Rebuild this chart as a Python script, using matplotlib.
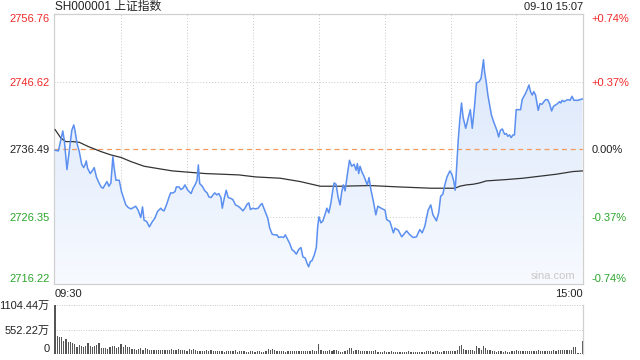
import matplotlib
matplotlib.use("Agg")
import numpy as np
from matplotlib import pyplot as plt
from matplotlib.colors import LinearSegmentedColormap

# =================================================
#  ========== CONFIG ==========
# =================================================
plt.rcParams["font.family"] = ["Liberation Sans", "Noto Sans CJK SC", "DejaVu Sans"]
plt.rcParams["font.size"] = 8

RED = "#f02a2a"
GREEN = "#2ca62c"
GRID = "#c8c8c8"
LINE = "#5b8ff0"

title = "SH000001 上证指数"
stamp = "09-10 15:07"
prev_close = 2736.49

price_ticks = [2716.22, 2726.35, 2736.49, 2746.62, 2756.76]
price_labels = ["2716.22", "2726.35", "2736.49", "2746.62", "2756.76"]
pct_labels = ["-0.74%", "-0.37%", "0.00%", "+0.37%", "+0.74%"]
tick_colors = [GREEN, GREEN, "#222222", RED, RED]

vol_ticks = [0, 552.22, 1104.44]
vol_labels = ["0", "552.22万", "1104.44万"]

# minute index (0 = 09:30, 240 = 15:00) and index level
minutes = [0, 1.5, 3.5, 4.2, 5.4, 6.5, 7.6, 8.5, 9.1, 10, 11, 12.1, 13, 13.6, 14.2, 14.8, 16, 17.1, 17.8, 18.8,
           19.7, 20.9, 21.8, 22.7, 23.6, 24.5, 25.4, 26.3, 26.9, 27.7, 29.2, 30.2, 31.2, 32.2, 33.3, 34.5, 35.7,
           36.7, 37.8, 39, 39.8, 40.5, 41.7, 42.9, 44.3, 45.4, 46.6, 48.1, 48.9, 49.6, 50.7, 51.9, 52.6, 53.7,
           54.6, 55.2, 56.4, 57.3, 58.2, 59.1, 60.2, 61, 61.9, 62.8, 63.7, 64.6, 65.2, 65.8, 67, 68.2, 69.2, 70,
           71, 71.9, 72.7, 73.6, 74.5, 75.5, 76.1, 77, 77.9, 78.8, 79.8, 80.9, 82.1, 83.3, 84.4, 85.5, 86.4,
           87.4, 88.2, 88.9, 90, 91.2, 92.4, 93.5, 94.2, 95.4, 96.8, 97.7, 98.8, 99.8, 101, 101.8, 102.8, 104,
           104.8, 105.9, 106.8, 107.8, 108.9, 109.8, 110.9, 111.9, 112.8, 113.9, 114.6, 115.4, 116.2, 116.9,
           118, 118.9, 119.5, 120.1, 121, 121.9, 123, 123.7, 124.6, 125.5, 126.4, 127, 127.9, 128.8, 129.7,
           130.5, 131.2, 132, 133.1, 134, 135, 136.1, 137, 137.6, 138.2, 138.8, 139.6, 140.6, 141.5, 142.1,
           142.9, 143.8, 144.9, 146, 146.9, 148.4, 150.2, 150.9, 152.4, 154, 154.7, 156.2, 157.8, 160, 161.5,
           163, 164.5, 166, 167.1, 168.3, 169.8, 171, 172, 173.6, 174.6, 175.5, 176.5, 177.4, 178.4, 179.7,
           180.6, 181.5, 182.1, 182.7, 183.5, 184.2, 185, 185.7, 186.9, 188, 189, 189.9, 190.9, 191.8, 193,
           193.9, 194.5, 195, 195.5, 196.3, 197, 197.8, 198.6, 199.6, 200.5, 201.2, 201.9, 202.7, 203.6, 204.6,
           205.4, 206.1, 206.9, 207.6, 208.4, 209.1, 209.9, 210.8, 211.9, 212.6, 213.4, 214.1, 214.9, 215.7,
           216.4, 217.2, 217.9, 218.7, 219.3, 219.9, 220.7, 221.6, 222.5, 223.3, 224.2, 225.1, 226, 226.9,
           227.8, 228.7, 229.6, 230.2, 230.8, 231.7, 232.6, 233.5, 234.4, 235.3, 236.2, 237.1, 238, 238.9, 240]
price = [2736.3, 2736.2, 2739.2, 2737.8, 2733.4, 2736.3, 2739.3, 2740.1, 2739.2, 2737.3, 2736.1, 2734.2, 2733.7,
         2734.1, 2734.7, 2733.6, 2732.8, 2733.3, 2733.7, 2732.3, 2731.6, 2730.8, 2730.6, 2731.1, 2731.6, 2730.9,
         2731.4, 2735.3, 2733.6, 2731.8, 2731.8, 2730.1, 2729.1, 2728.1, 2727.7, 2727.5, 2727.7, 2727.9, 2727.3,
         2726.2, 2727.8, 2725.8, 2725.6, 2724.8, 2725.6, 2726.1, 2727.1, 2727.6, 2727.3, 2727.2, 2728.1, 2729.3,
         2729.9, 2729.9, 2730.1, 2730.8, 2730.8, 2730.4, 2730.6, 2731.1, 2730.4, 2730.1, 2729.8, 2730.6, 2731.1,
         2731.8, 2734.1, 2731.3, 2730.9, 2730.2, 2729.9, 2729.3, 2729.2, 2729.6, 2729.9, 2729.6, 2729.8, 2729.2,
         2727.6, 2729.1, 2730.3, 2729.2, 2729.1, 2728.9, 2728.1, 2727.9, 2727.6, 2727.2, 2727.6, 2728.2, 2728.4,
         2727.4, 2727.6, 2727.5, 2727.6, 2728.1, 2728.3, 2727.3, 2726.1, 2724.6, 2723.7, 2723.6, 2723.6, 2723.2,
         2723.3, 2723.2, 2723.6, 2722.9, 2722.3, 2721.4, 2721.1, 2720.7, 2721.4, 2721.7, 2720.3, 2720.1, 2719.4,
         2718.8, 2719.6, 2719.7, 2720.6, 2721.7, 2724.7, 2726.3, 2725.4, 2725.7, 2726.8, 2727.6, 2726.9, 2728.3,
         2730.3, 2731.4, 2731.2, 2729.3, 2728.1, 2730.1, 2731.1, 2730.2, 2732.8, 2734.8, 2733.9, 2734.2, 2733.3,
         2734.3, 2732.8, 2733.9, 2733.1, 2732.4, 2731.6, 2731.1, 2732.2, 2730.3, 2728.6, 2726.6, 2727.9, 2727.6,
         2727.3, 2725.9, 2725.6, 2723.9, 2724.6, 2724.3, 2723.3, 2724.2, 2723.6, 2723.2, 2723.3, 2724.4, 2723.9,
         2724.9, 2727.3, 2728.1, 2726.6, 2725.7, 2726.9, 2729.4, 2729.7, 2731.1, 2732.3, 2733.2, 2732.7, 2731.6,
         2730.3, 2733.3, 2737.8, 2740.8, 2743.4, 2741.3, 2739.6, 2741.1, 2742.4, 2739.6, 2742.8, 2746.4, 2746.6,
         2747.1, 2748.6, 2749.9, 2748.1, 2746.4, 2744.6, 2743.1, 2741.6, 2740.6, 2739.8, 2739.2, 2738.3, 2739.3,
         2739.5, 2738.7, 2738.8, 2738.4, 2738.6, 2738.2, 2738.6, 2738.6, 2742.4, 2742.4, 2742.4, 2743.9, 2744.4,
         2744.8, 2745.4, 2746.1, 2745.1, 2744.6, 2745.1, 2744.6, 2743.4, 2742.3, 2743.3, 2743.2, 2743.6, 2743.9,
         2743.9, 2743.3, 2742.2, 2742.9, 2743.1, 2743.3, 2743.6, 2743.4, 2743.8, 2743.6, 2743.8, 2743.9, 2743.8,
         2744.4, 2743.8, 2743.8, 2743.8, 2743.9, 2744.0]

# average price line
avg_minutes = [0, 2.7, 4.9, 8, 11, 14.8, 20.9, 25.4, 30.2, 34.5, 40.5, 47.8, 53.4, 61, 68.5, 76.1, 83.6, 91.2,
               102.5, 111.6, 120.7, 129.7, 143.3, 156.2, 171.3, 182, 184.2, 187.2, 190.3, 193.3, 196.3, 205.4,
               212.9, 220.5, 228.1, 235.6, 240]
avg_price = [2739.4, 2738.1, 2737.6, 2737.6, 2737.5, 2736.9, 2736.1, 2735.6, 2735.2, 2734.6, 2733.9, 2733.5,
             2733.2, 2733.0, 2732.8, 2732.7, 2732.6, 2732.3, 2732.1, 2731.6, 2730.9, 2730.9, 2731.0, 2730.8,
             2730.6, 2730.6, 2730.9, 2731.1, 2731.2, 2731.4, 2731.7, 2731.9, 2732.1, 2732.4, 2732.7, 2733.1, 2733.2]

# volume per minute (万手)
volume = [1104, 410, 388, 382, 300, 345, 272, 262, 240, 228,
          165, 205, 188, 168, 178, 250, 182, 165, 170, 192,
          258, 140, 128, 142, 118, 148, 185, 190, 140, 168,
          232, 148, 205, 150, 165, 120, 102, 98, 108, 125,
          100, 140, 102, 92, 82, 98, 88, 84, 90, 92,
          88, 92, 90, 110, 82, 86, 112, 92, 98, 100,
          78, 118, 96, 102, 88, 70, 72, 64, 70, 92,
          66, 80, 68, 68, 74, 78, 62, 52, 60, 70,
          58, 60, 82, 50, 58, 72, 60, 48, 52, 70,
          62, 54, 60, 64, 52, 56, 70, 102, 82, 112,
          96, 60, 66, 64, 58, 54, 70, 70, 72, 72,
          68, 64, 60, 70, 78, 62, 70, 80, 70, 62,
          232, 92, 60, 58, 62, 88, 62, 84, 86, 70,
          56, 48, 72, 98, 134, 132, 60, 80, 98, 72,
          66, 70, 68, 60, 62, 64, 98, 56, 50, 52,
          58, 52, 48, 58, 50, 40, 52, 56, 46, 48,
          50, 58, 42, 44, 46, 48, 52, 48, 54, 66,
          60, 64, 50, 60, 58, 56, 46, 68, 72, 70,
          70, 74, 72, 98, 190, 210, 102, 80, 82, 80,
          80, 70, 170, 136, 84, 188, 124, 80, 82, 70,
          62, 52, 74, 58, 50, 60, 48, 44, 64, 58,
          98, 60, 66, 72, 70, 72, 64, 74, 60, 70,
          86, 64, 78, 70, 70, 72, 66, 84, 74, 80,
          100, 82, 84, 92, 96, 100, 164, 166, 20, 22,
          298]

# =================================================
#  ========== FIGURE ==========
# =================================================
fig = plt.figure(figsize=(6.4, 3.6), dpi=100)
ax = fig.add_axes([54 / 640, 1 - 284 / 360, 529 / 640, 270 / 360])
ax_v = fig.add_axes([54 / 640, 1 - 354 / 360, 529 / 640, 49 / 360])

xlim = (-0.5, 240.3)
ylim = (price_ticks[0], price_ticks[-1])

# gradient fill under the price line
cmap = LinearSegmentedColormap.from_list("fill", ["#f7faff", "#d6e4fa"])
grad = np.linspace(0, 1, 256).reshape(-1, 1)
im = ax.imshow(grad, extent=[xlim[0], xlim[1], ylim[0], ylim[1]], origin="lower",
               cmap=cmap, aspect="auto", zorder=1)
poly = ax.fill_between(minutes, price, ylim[0], color="none", zorder=1)
im.set_clip_path(poly.get_paths()[0], transform=ax.transData)

ax.plot(minutes, price, color=LINE, lw=1.1, zorder=4)
ax.plot(avg_minutes, avg_price, color="#333333", lw=0.9, zorder=3)
ax.axhline(prev_close, color="#f29a60", lw=0.9, ls=(0, (4, 3)), zorder=2)

for p in price_ticks[1:-1]:
    if p != prev_close:
        ax.axhline(p, color=GRID, lw=0.7, ls=(0, (1, 2)), zorder=0)
for m in range(30, 240, 30):
    ax.axvline(m, color=GRID, lw=0.7, ls=(0, (1, 2)), zorder=0)

ax.set_xlim(*xlim)
ax.set_ylim(*ylim)
ax.set_xticks([])
ax.set_yticks(price_ticks)
ax.set_yticklabels(price_labels)
ax.tick_params(axis="y", length=0, pad=3, labelsize=8)
for lbl, c in zip(ax.get_yticklabels(), tick_colors):
    lbl.set_color(c)
ax.get_yticklabels()[0].set_va("bottom")
ax.get_yticklabels()[-1].set_va("top")
for s in ax.spines.values():
    s.set_color("#d0d0d0")
    s.set_linewidth(0.9)

ax_r = ax.twinx()
ax_r.set_ylim(*ylim)
ax_r.set_yticks(price_ticks)
ax_r.set_yticklabels(pct_labels)
ax_r.tick_params(axis="y", length=0, pad=6, labelsize=8)
for lbl, c in zip(ax_r.get_yticklabels(), tick_colors):
    lbl.set_color(c)
ax_r.get_yticklabels()[0].set_va("bottom")
ax_r.get_yticklabels()[-1].set_va("top")
for s in ax_r.spines.values():
    s.set_visible(False)

ax.text(0.985, 0.012, "sina.com", transform=ax.transAxes, ha="right", va="bottom",
        color="#c8c8c8", fontsize=8)

fig.text(55 / 640, 1 - 7 / 360, title, ha="left", va="center", fontsize=8.5, color="#222222")
fig.text(583 / 640, 1 - 7 / 360, stamp, ha="right", va="center", fontsize=8, color="#222222")
fig.text(55 / 640, 1 - 294 / 360, "09:30", ha="left", va="center", fontsize=8, color="#222222")
fig.text(583 / 640, 1 - 294 / 360, "15:00", ha="right", va="center", fontsize=8, color="#222222")

# volume panel
ax_v.bar(range(len(volume)), volume, width=0.55, color="#555555", zorder=2)
ax_v.set_xlim(*xlim)
ax_v.set_ylim(0, vol_ticks[-1])
for v in vol_ticks[1:]:
    ax_v.axhline(v, color=GRID, lw=0.7, ls=(0, (1, 1.5)), zorder=0, clip_on=False)
ax_v.set_xticks([])
ax_v.set_yticks(vol_ticks)
ax_v.set_yticklabels(vol_labels)
ax_v.tick_params(axis="y", length=0, pad=3, labelsize=8, labelcolor="#222222")
ax_v.get_yticklabels()[0].set_va("bottom")
for k in ["top", "left", "bottom"]:
    ax_v.spines[k].set_visible(False)
ax_v.spines["right"].set_color("#d0d0d0")
ax_v.spines["right"].set_linewidth(0.9)

fig.savefig("out.png", dpi=100)
